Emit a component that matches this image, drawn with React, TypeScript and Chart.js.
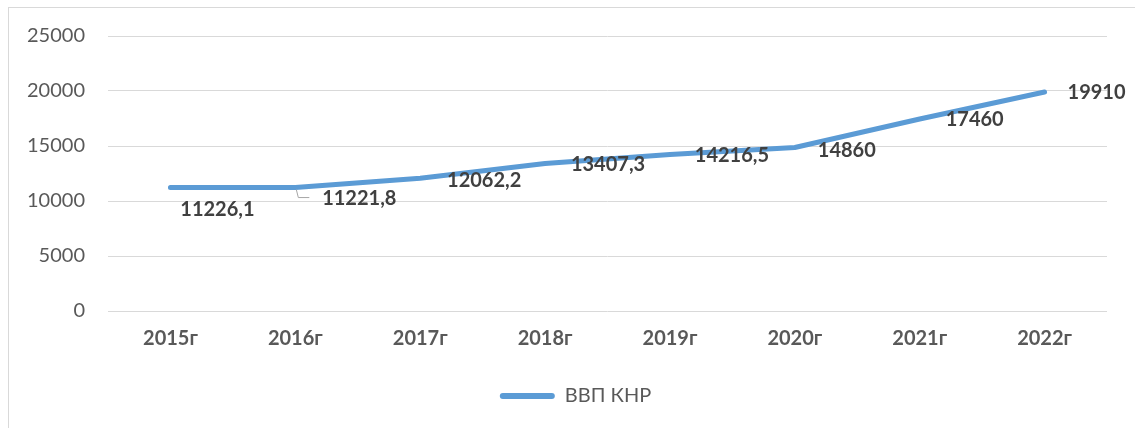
import React, { useEffect, useRef } from "react";
import { Chart, registerables } from "chart.js";

Chart.register(...registerables);

const categories = ["2015г", "2016г", "2017г", "2018г", "2019г", "2020г", "2021г", "2022г"];
const gdpValues = [11226.1, 11221.8, 12062.2, 13407.3, 14216.5, 14860, 17460, 19910];
const gdpLabels = ["11226,1", "11221,8", "12062,2", "13407,3", "14216,5", "14860", "17460", "19910"];
const seriesName = "ВВП КНР";
const yTicks = [0, 5000, 10000, 15000, 20000, 25000];

// label offsets relative to the point (pixels)
const labelOffsets = [
  [47, 22], [64, 11], [64, 2], [63, 1], [62, 1], [52, 3], [55, 1], [52, 1],
];

const FONT = "Lato, 'Open Sans', sans-serif";

const labelPlugin = {
  id: "dataLabelsCustom",
  afterLayout(chart: any) {
    if (chart.legend) {
      chart.legend.left += 22;
      chart.legend.right += 22;
    }
  },
  afterDatasetsDraw(chart: any) {
    const ctx = chart.ctx;
    const meta = chart.getDatasetMeta(0);
    ctx.save();
    ctx.font = `bold 20px ${FONT}`;
    ctx.fillStyle = "#404040";
    ctx.textAlign = "center";
    ctx.textBaseline = "middle";
    meta.data.forEach((pt: any, i: number) => {
      const [dx, dy] = labelOffsets[i];
      ctx.fillText(gdpLabels[i], pt.x + dx, pt.y + dy);
    });
    // leader line for 2016
    const p = meta.data[1];
    ctx.strokeStyle = "#a6a6a6";
    ctx.lineWidth = 1;
    ctx.beginPath();
    ctx.moveTo(p.x + 1, p.y + 2);
    ctx.lineTo(p.x + 3, p.y + 10);
    ctx.lineTo(p.x + 14, p.y + 10);
    ctx.stroke();
    ctx.restore();
  },
};

export default function App() {
  const ref = useRef<HTMLCanvasElement>(null);
  useEffect(() => {
    if (!ref.current) return;
    const chart = new Chart(ref.current, {
      type: "line",
      data: {
        labels: categories,
        datasets: [
          {
            label: seriesName,
            data: gdpValues,
            borderColor: "#5b9bd5",
            backgroundColor: "#5b9bd5",
            borderWidth: 5,
            pointRadius: 0,
            tension: 0,
            borderCapStyle: "round",
            borderJoinStyle: "round",
          },
        ],
      },
      options: {
        animation: false,
        responsive: false,
        layout: { padding: { top: 36, right: 28, left: 0, bottom: 12 } },
        plugins: {
          tooltip: { enabled: false },
          legend: {
            position: "bottom",
            labels: {
              boxWidth: 55,
              boxHeight: 6,
              padding: 10,
              color: "#595959",
              font: { family: FONT, size: 20 },
              generateLabels: () => [
                {
                  text: seriesName,
                  fillStyle: "#5b9bd5",
                  strokeStyle: "#5b9bd5",
                  lineWidth: 0,
                  borderRadius: 3,
                  fontColor: "#595959",
                  datasetIndex: 0,
                } as any,
              ],
            },
          },
        },
        scales: {
          x: {
            offset: true,
            grid: { display: false, drawTicks: false },
            border: { display: false },
            ticks: {
              color: "#595959",
              font: { family: FONT, size: 20, weight: "bold" },
              padding: 16,
              maxRotation: 0,
            },
            afterFit: (s: any) => {
              s.height = 65;
            },
          },
          y: {
            min: 0,
            max: 25000,
            afterBuildTicks: (s: any) => {
              s.ticks = yTicks.map((v) => ({ value: v }));
            },
            grid: { color: "#d9d9d9", lineWidth: 1, drawTicks: false },
            border: { display: false },
            ticks: {
              color: "#595959",
              font: { family: FONT, size: 20 },
              padding: 23,
              callback: (v: any) => String(v),
            },
            afterFit: (s: any) => {
              s.width = 108;
            },
          },
        },
      },
      plugins: [labelPlugin],
    });
    return () => chart.destroy();
  }, []);

  return (
    <div style={{ position: "fixed", left: 0, top: 0, width: 1135, height: 428, background: "#fff", overflow: "hidden" }}>
      <div
        style={{
          position: "absolute",
          left: 8,
          top: 7,
          width: 1140,
          height: 440,
          border: "1px solid #d9d9d9",
          boxSizing: "border-box",
        }}
      />
      <canvas ref={ref} width={1135} height={428} style={{ position: "absolute", left: 0, top: 0 }} />
    </div>
  );
}
